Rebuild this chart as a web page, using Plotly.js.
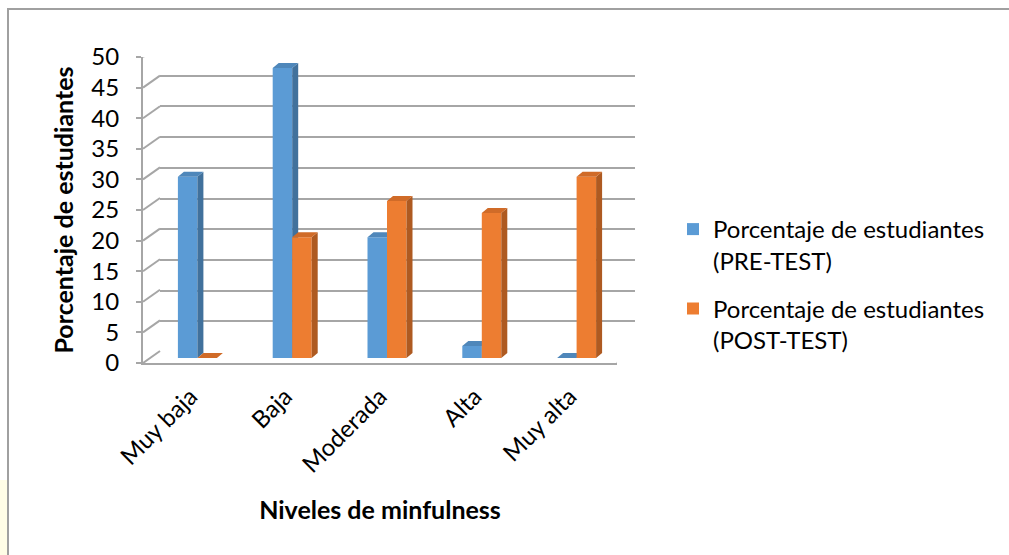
<!DOCTYPE html>
<html>
<head>
<meta charset="utf-8">
<script src="https://cdn.plot.ly/plotly-3.0.1.min.js"></script>
<style>html,body{margin:0;padding:0;background:#fff}#chart{width:1009px;height:555px}</style>
</head>
<body>
<div id="chart"></div>
<script>
// ---- data ----
const categories = ['Muy baja', 'Baja', 'Moderada', 'Alta', 'Muy alta'];
const preTest = [30, 48, 20, 2, 0];
const postTest = [0, 20, 26, 24, 30];
const yTickVals = [0, 5, 10, 15, 20, 25, 30, 35, 40, 45, 50];
const seriesNames = ['Porcentaje de estudiantes<br>(PRE-TEST)', 'Porcentaje de estudiantes<br>(POST-TEST)'];
const xTitle = 'Niveles de minfulness';
const yTitle = 'Porcentaje de estudiantes';

// ---- styling / geometry ----
const W = 1009, H = 555;
const fx = p => p / W;
const fy = p => 1 - p / H;
const FONT = 'Lato, "Open Sans", sans-serif';
const BLUE = '#5B9BD5', BLUE_SIDE = '#41719C', BLUE_TOP = '#4F87BA';
const ORANGE = '#ED7D31', ORANGE_SIDE = '#AE5A21', ORANGE_TOP = '#D06B28';
const GRID = '#a6a6a6';

// mid plane (bars) pixel geometry
const MID = {x0: 150, x1: 624, y0: 358, y1: 56};
const pxPerX = (MID.x1 - MID.x0) / categories.length;
const pxPerY = (MID.y0 - MID.y1) / 50;
const barW = 19.5 / pxPerX;
const depthX = 6 / pxPerX, depthY = 5 / pxPerY;

function faces(values, offset) {
  const side = {x: [], y: []}, top = {x: [], y: []};
  values.forEach((v, i) => {
    const xl = i + offset, xr = xl + barW;
    side.x.push(xr, xr, xr + depthX, xr + depthX, xr, null);
    side.y.push(0, v, v + depthY, depthY, 0, null);
    top.x.push(xl, xr, xr + depthX, xl + depthX, xl, null);
    top.y.push(v, v, v + depthY, v + depthY, v, null);
  });
  return {side, top};
}
const fPre = faces(preTest, -barW);
const fPost = faces(postTest, 0);
const xs = categories.map((c, i) => i);

const traces = [
  // back wall grid subplot (xy)
  {type: 'scatter', x: [], y: [], xaxis: 'x', yaxis: 'y', showlegend: false, hoverinfo: 'skip'},
  // front axes subplot (x2y2)
  {type: 'scatter', x: [], y: [], xaxis: 'x2', yaxis: 'y2', showlegend: false, hoverinfo: 'skip'},
  // PRE bars (x3y3)
  {type: 'bar', name: seriesNames[0], x: xs, y: preTest, width: barW, offset: -barW,
   marker: {color: BLUE, line: {width: 0}}, xaxis: 'x3', yaxis: 'y3', legendgroup: 'pre'},
  {type: 'scatter', mode: 'lines', x: fPre.side.x, y: fPre.side.y, fill: 'toself', fillcolor: BLUE_SIDE,
   line: {width: 0, color: BLUE_SIDE}, xaxis: 'x3', yaxis: 'y3', showlegend: false, hoverinfo: 'skip', legendgroup: 'pre'},
  {type: 'scatter', mode: 'lines', x: fPre.top.x, y: fPre.top.y, fill: 'toself', fillcolor: BLUE_TOP,
   line: {width: 0, color: BLUE_TOP}, xaxis: 'x3', yaxis: 'y3', showlegend: false, hoverinfo: 'skip', legendgroup: 'pre'},
  // POST bars (x4y4 overlaying)
  {type: 'bar', name: seriesNames[1], x: xs, y: postTest, width: barW, offset: 0,
   marker: {color: ORANGE, line: {width: 0}}, xaxis: 'x4', yaxis: 'y4', legendgroup: 'post'},
  {type: 'scatter', mode: 'lines', x: fPost.side.x, y: fPost.side.y, fill: 'toself', fillcolor: ORANGE_SIDE,
   line: {width: 0, color: ORANGE_SIDE}, xaxis: 'x4', yaxis: 'y4', showlegend: false, hoverinfo: 'skip', legendgroup: 'post'},
  {type: 'scatter', mode: 'lines', x: fPost.top.x, y: fPost.top.y, fill: 'toself', fillcolor: ORANGE_TOP,
   line: {width: 0, color: ORANGE_TOP}, xaxis: 'x4', yaxis: 'y4', showlegend: false, hoverinfo: 'skip', legendgroup: 'post'}
];

const hidden = {showgrid: false, zeroline: false, showticklabels: false, showline: false, ticks: ''};
const catRange = [-0.5, categories.length - 0.5];

// diagonal depth lines (front axis ticks -> back wall grid)
const shapes = yTickVals.map(v => ({
  type: 'line', layer: 'above', xref: 'paper', xsizemode: 'pixel', xanchor: fx(143), x0: 0, x1: 17,
  yref: 'y2', ysizemode: 'pixel', yanchor: v, y0: 0, y1: 12,
  line: {color: GRID, width: 2}
}));
// floor right edge
shapes.push({
  type: 'line', layer: 'above', xref: 'x2', xsizemode: 'pixel', xanchor: catRange[1], x0: 0, x1: 18,
  yref: 'y2', ysizemode: 'pixel', yanchor: 0, y0: 0, y1: 12,
  line: {color: GRID, width: 2}
});
// pale tint outside the chart frame (bottom-left)
shapes.push({type: 'rect', layer: 'below', xref: 'paper', yref: 'paper',
  x0: 0, x1: fx(8), y0: 0, y1: fy(480), line: {width: 0}, fillcolor: '#fffde6'});
// chart border
shapes.push({type: 'rect', layer: 'above', xref: 'paper', yref: 'paper',
  x0: fx(8), x1: 1.06, y0: -0.06, y1: fy(9), line: {color: '#a0a0a0', width: 2}});

const layout = {
  width: W, height: H,
  margin: {l: 0, r: 0, t: 0, b: 0},
  paper_bgcolor: '#ffffff', plot_bgcolor: 'rgba(0,0,0,0)',
  font: {family: FONT, size: 24, color: '#000'},
  showlegend: true,
  barmode: 'overlay',
  legend: {x: fx(673), y: fy(207), xanchor: 'left', yanchor: 'top', valign: 'top',
           traceorder: 'grouped', tracegroupgap: 14, itemwidth: 30,
           font: {family: FONT, size: 24, color: '#000'}, bgcolor: 'rgba(0,0,0,0)'},
  // back wall
  xaxis: Object.assign({domain: [fx(160), fx(635)], range: catRange, anchor: 'y'}, hidden),
  yaxis: Object.assign({}, hidden, {domain: [fy(352), fy(45)], range: [0, 50], anchor: 'x',
          tickvals: yTickVals, showgrid: true, gridcolor: GRID, gridwidth: 2}),
  // front plane (labels)
  xaxis2: {domain: [fx(143), fx(617)], range: catRange, anchor: 'y2', tickvals: xs, ticktext: categories,
           tickangle: -45, showline: true, linecolor: GRID, linewidth: 2, showgrid: false, zeroline: false,
           ticks: '', ticklabelstandoff: 8, tickfont: {family: FONT, size: 24},
           title: {text: '<b>' + xTitle + '</b>', font: {family: FONT, size: 25}, standoff: 25}, automargin: false},
  yaxis2: {domain: [fy(363), fy(57)], range: [0, 50], anchor: 'x2', tickvals: yTickVals,
           showline: true, linecolor: GRID, linewidth: 2, showgrid: false, zeroline: false,
           ticks: 'outside', ticklen: 5, tickcolor: GRID, tickwidth: 2, ticklabelstandoff: 12,
           tickfont: {family: FONT, size: 24},
           title: {text: '<b>' + yTitle + '</b>', font: {family: FONT, size: 25}, standoff: 11}, automargin: false},
  // bars mid plane
  xaxis3: Object.assign({domain: [fx(MID.x0), fx(MID.x1)], range: catRange, anchor: 'y3'}, hidden),
  yaxis3: Object.assign({domain: [fy(MID.y0), fy(MID.y1)], range: [0, 50], anchor: 'x3'}, hidden),
  xaxis4: Object.assign({overlaying: 'x3', range: catRange, anchor: 'y4'}, hidden),
  yaxis4: Object.assign({overlaying: 'y3', range: [0, 50], anchor: 'x4'}, hidden),
  shapes: shapes
};

Plotly.newPlot('chart', traces, layout, {staticPlot: true, displayModeBar: false});
</script>
</body>
</html>
